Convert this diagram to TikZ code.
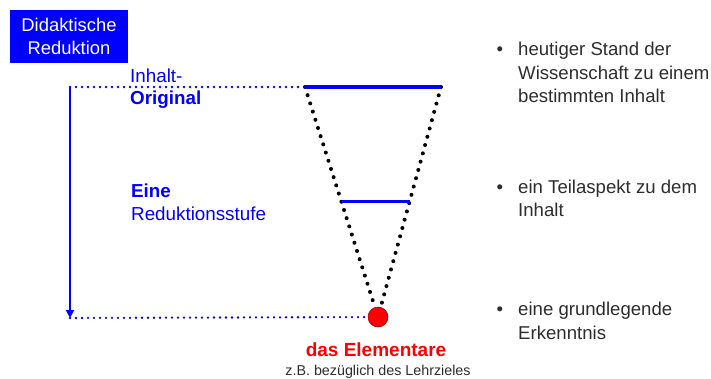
\documentclass[tikz,border=0pt]{standalone}
\usepackage{fontspec}
\setmainfont{Liberation Sans}
\usepackage{xcolor}
\usetikzlibrary{arrows.meta,calc}

\definecolor{slideblue}{RGB}{0,0,255}
\definecolor{slidered}{RGB}{255,0,0}
\definecolor{slidegray}{RGB}{45,45,45}

\begin{document}
\begin{tikzpicture}[x=1pt,y=-1pt,
  bluedots/.style={slideblue,line width=2.6pt,line cap=round,dash pattern=on 0pt off 6pt},
  blackdots/.style={black,line width=4pt,line cap=round,dash pattern=on 0pt off 8.6pt},
  lbl/.style={anchor=base west,inner sep=0pt,align=left,text=slideblue,font=\fontsize{18.8}{22.5}\selectfont},
  item/.style={anchor=base west,inner sep=0pt,align=left,text=slidegray,font=\fontsize{18.6}{23.5}\selectfont}]
  \useasboundingbox (0,0) rectangle (711,379);
  % title box
  \node[fill=slideblue,text=white,align=center,minimum width=118pt,minimum height=53pt,inner sep=0pt,font=\fontsize{18.4}{23}\selectfont] (title) at (69,36.5) {Didaktische\\Reduktion};
  % funnel
  \coordinate (start) at (70,87);
  \coordinate (end) at (70,318);
  \coordinate (topL) at (305,87);
  \coordinate (topR) at (441,87);
  \coordinate (tip) at (378,317);
  \coordinate (midL) at ($(topL)!0.5!(tip)$);
  \coordinate (midR) at ($(topR)!0.5!(tip)$);
  \node[circle,fill=slidered,draw=red!55!black,line width=0.5pt,minimum size=20pt,inner sep=0pt] (elem) at (tip) {};
  \draw[blackdots] (topL) -- (elem);
  \draw[blackdots] (topR) -- (elem);
  \draw[slideblue,line width=3.8pt] (topL) -- (topR);
  \draw[slideblue,line width=3pt] (midL) -- (midR);
  \draw[bluedots] (start) -- (topL);
  \draw[bluedots] (end) -- (elem);
  \draw[slideblue,line width=2.4pt,-{Triangle[length=8pt,width=8pt]}] (start) -- (end);
  % labels
  \node[lbl] (inhalt) at (130,105) {Inhalt-\\\textbf{Original}};
  \node[lbl] (stufe) at (131,220) {\textbf{Eine}\\Reduktionsstufe};
  \node[anchor=base,inner sep=0pt,text=slidered,font=\bfseries\fontsize{19}{22}\selectfont] (elemtxt) at (376,356) {das Elementare};
  \node[anchor=base,inner sep=0pt,text=slidegray,font=\fontsize{14.3}{16}\selectfont] (elemnote) at (378,375) {z.B. bezüglich des Lehrzieles};
  % bullet items
  \node[item] (item1) at (518,103) {\llap{\textbullet\hspace{15pt}}heutiger Stand der\\Wissenschaft zu einem\\bestimmten Inhalt};
  \node[item] (item2) at (518,217) {\llap{\textbullet\hspace{15pt}}ein Teilaspekt zu dem\\Inhalt};
  \node[item] (item3) at (518,339) {\llap{\textbullet\hspace{15pt}}eine grundlegende\\Erkenntnis};
\end{tikzpicture}
\end{document}
